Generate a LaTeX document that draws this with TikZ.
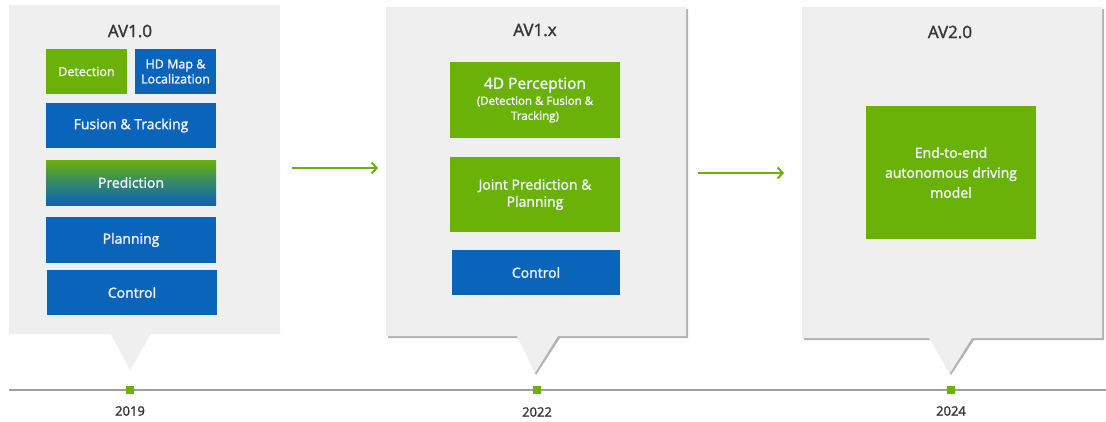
\documentclass[tikz,border=0pt]{standalone}
\usepackage{fontspec}
\setmainfont{Open Sans}[FakeBold=1.6]
\usetikzlibrary{arrows.meta}
\definecolor{nvgreen}{RGB}{106,178,8}
\definecolor{nvblue}{RGB}{10,100,186}
\definecolor{panelgray}{RGB}{239,239,239}
\definecolor{shadowgray}{RGB}{178,178,178}
\definecolor{titlegray}{RGB}{55,55,55}
\definecolor{linegray}{RGB}{160,160,160}
\tikzset{
  panel/.style={fill=panelgray, draw=none},
  pshadow/.style={fill=shadowgray, draw=none},
  blk/.style={rectangle, inner sep=0pt, align=center, text=white!95!blue,
    font=\fontsize{14}{17}\selectfont},
  gblk/.style={blk, fill=nvgreen},
  bblk/.style={blk, fill=nvblue},
  title/.style={font=\fontsize{17}{19}\selectfont, text=titlegray},
  year/.style={font=\fontsize{13}{15}\selectfont, text=titlegray},
  tick/.style={rectangle, fill=nvgreen, minimum size=8pt, inner sep=0pt},
  flow/.style={nvgreen, line width=2pt, -{Straight Barb[length=5pt,width=11pt,line width=2pt]}},
}
\begin{document}
\begin{tikzpicture}[x=1pt, y=-1pt]
\useasboundingbox (0,0) rectangle (1106,421);
\fill[white] (0,0) rectangle (1106,421);

% timeline
\coordinate (tl0) at (9,390);
\coordinate (tl1) at (1106,390);
\draw[linegray, line width=1.2pt] (tl0) -- (tl1);

% callout panels
\fill[panel] (9,5) -- (280,5) -- (280,334) -- (151,334) -- (130,370) -- (111,334) -- (9,334) -- cycle;
\fill[pshadow] (388,9) -- (688,9) -- (688,338) -- (560,338) -- (536,375) -- (519,338) -- (388,338) -- cycle;
\fill[panel] (386,7) -- (686,7) -- (686,336) -- (558,336) -- (535,373) -- (517,336) -- (386,336) -- cycle;
\fill[pshadow] (804,9) -- (1104,9) -- (1104,340) -- (974,340) -- (951,375) -- (931,340) -- (804,340) -- cycle;
\fill[panel] (802,7) -- (1102,7) -- (1102,338) -- (972,338) -- (950,373) -- (929,338) -- (802,338) -- cycle;

% AV1.0
\node[title] (t1) at (130,31) {AV1.0};
\node[gblk, minimum width=81pt, minimum height=45pt, font=\fontsize{12.5}{15}\selectfont] (det) at (86.5,71.5) {Detection};
\node[bblk, minimum width=81pt, minimum height=45pt, font=\fontsize{12.5}{15}\selectfont] (hdm) at (175.5,71.5) {HD Map \&\\Localization};
\node[bblk, minimum width=170pt, minimum height=45pt] (fus) at (131,125.5) {Fusion \& Tracking};
\node[blk, minimum width=170pt, minimum height=45pt, top color=nvgreen, bottom color=nvblue, middle color=nvgreen!45!nvblue] (pred) at (131,182.5) {Prediction};
\node[bblk, minimum width=170pt, minimum height=46pt] (plan) at (131,240) {Planning};
\node[bblk, minimum width=170pt, minimum height=45pt] (ctl1) at (132,292.5) {Control};

% AV1.x
\node[title] (t2) at (535,30) {AV1.x};
\node[gblk, minimum width=170pt, minimum height=76pt] (perc) at (535,100) {};
\node[blk, font=\fontsize{15.5}{18}\selectfont] (perct) at (535,85) {4D Perception};
\node[blk, font=\fontsize{11.5}{15}\selectfont] (percs) at (535,109.5) {(Detection \& Fusion \&\\Tracking)};
\node[gblk, minimum width=170pt, minimum height=75pt] (jpp) at (535,194.5) {Joint Prediction \&\\Planning};
\node[bblk, minimum width=168pt, minimum height=45pt] (ctl2) at (536,272.5) {Control};

% AV2.0
\node[title] (t3) at (950,32) {AV2.0};
\node[gblk, minimum width=170pt, minimum height=133pt, font=\fontsize{14}{20}\selectfont] (e2e) at (951,172.5) {End-to-end\\autonomous driving\\model};

% transitions
\coordinate (a1s) at (292,168);
\coordinate (a1e) at (378,168);
\coordinate (a2s) at (698,173);
\coordinate (a2e) at (784,173);
\draw[flow] (a1s) -- (a1e);
\draw[flow] (a2s) -- (a2e);

% milestones
\node[tick] (m1) at (130,390) {};
\node[tick] (m2) at (537,390) {};
\node[tick] (m3) at (951,390) {};
\node[year] (y1) at (130,411) {2019};
\node[year] (y2) at (537,412) {2022};
\node[year] (y3) at (951,411) {2024};
\end{tikzpicture}
\end{document}
